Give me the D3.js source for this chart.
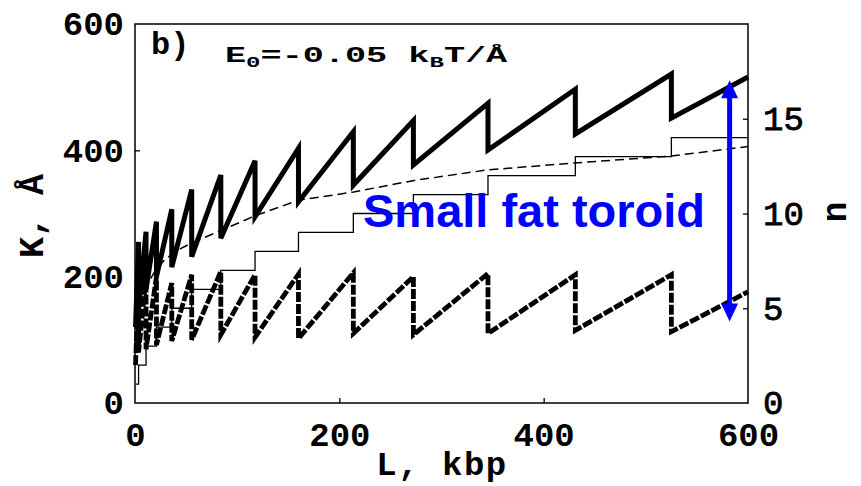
<!DOCTYPE html>
<html>
<head>
<meta charset="utf-8">
<script src="https://cdn.jsdelivr.net/npm/d3@7/dist/d3.min.js"></script>
<style>
  html, body { margin: 0; padding: 0; background: #fff; }
  svg { display: block; }
</style>
</head>
<body>
<svg id="chart" width="861" height="486"></svg>
<script>
// Segment boundaries along L (kbp): each new turn n starts at the next boundary
const breakL = [0.5, 3.5, 10.8, 21, 36, 55.5, 84, 117.5, 160, 213.7, 272.5, 345.5, 431, 525, 600];
// Number of turns n on each segment
const turns = [1, 2, 3, 4, 5, 6, 7, 8, 9, 10, 11, 12, 13, 14];
// Outer radius K (Å) at start and end of each segment
const outerStart = [120, 150, 180, 200, 215, 231.6, 260.7, 295, 318.7, 345, 377, 400.5, 426, 451];
const outerEnd   = [255, 271, 287, 306.6, 338, 361, 383.5, 403, 429.5, 447, 474.4, 496.6, 520.8, 516];
// Inner radius K (Å) at start and end of each segment
const innerStart = [60, 80, 85, 92, 98, 100, 108, 104, 102, 110, 108, 110, 115, 113];
const innerEnd   = [195, 200, 200, 190, 203, 208, 203, 204, 206, 200, 205, 203, 203, 176];
// Smooth reference curve K(L)
const smoothL = [0.5, 2, 5, 10, 20, 30, 42, 55, 84, 117, 160, 214, 272, 345, 430, 525, 600];
const smoothK = [90, 125, 155, 182, 210, 228, 242, 253, 273, 296, 321, 334, 352, 369, 380, 391, 406];
// Axis ticks
const xTicks = [0, 200, 400, 600];
const kTicks = [0, 200, 400, 600];
const nTicks = [0, 5, 10, 15];
// Annotation arrow (L position, K span)
const arrowL = 582, arrowTop = 511, arrowBottom = 129;

const svg = d3.select("#chart");
const W = 861, H = 486;
svg.append("rect").attr("width", W).attr("height", H).attr("fill", "#fff");

const x = d3.scaleLinear().domain([0, 600]).range([135, 748]);
const yK = d3.scaleLinear().domain([0, 600]).range([403, 24]);
const yN = d3.scaleLinear().domain([0, 20]).range([403, 24]);

// Build sawtooth point lists from the segment arrays
function sawtooth(starts, ends) {
  const pts = [];
  for (let i = 0; i < starts.length; i++) {
    pts.push([breakL[i], starts[i]]);
    pts.push([breakL[i + 1], ends[i]]);
  }
  return pts;
}
const outerPts = sawtooth(outerStart, outerEnd);
const innerPts = sawtooth(innerStart, innerEnd);
const stairPts = turns.map((n, i) => [breakL[i], n]);
stairPts.push([breakL[breakL.length - 1], turns[turns.length - 1]]);
const smoothPts = smoothL.map((l, i) => [l, smoothK[i]]);

const lineK = d3.line().x(d => x(d[0])).y(d => yK(d[1]));
const lineN = d3.line().x(d => x(d[0])).y(d => yN(d[1])).curve(d3.curveStepAfter);

const plot = svg.append("g");
plot.append("path").attr("d", lineN(stairPts))
  .attr("fill", "none").attr("stroke", "#000").attr("stroke-width", 1.3);
plot.append("path").attr("d", lineK(smoothPts))
  .attr("fill", "none").attr("stroke", "#000").attr("stroke-width", 1.5)
  .attr("stroke-dasharray", "9,5");
plot.append("path").attr("d", lineK(innerPts))
  .attr("fill", "none").attr("stroke", "#000").attr("stroke-width", 4.8)
  .attr("stroke-dasharray", "10,2").attr("stroke-linejoin", "miter");
plot.append("path").attr("d", lineK(outerPts))
  .attr("fill", "none").attr("stroke", "#000").attr("stroke-width", 5)
  .attr("stroke-linejoin", "miter");

// Frame
svg.append("rect").attr("x", 135).attr("y", 24).attr("width", 613).attr("height", 379)
  .attr("fill", "none").attr("stroke", "#000").attr("stroke-width", 1.5);

const mono = "'Liberation Mono', 'Courier New', monospace";

// Left axis (K)
const gL = svg.append("g").attr("transform", "translate(135,0)")
  .call(d3.axisLeft(yK).tickValues(kTicks).tickSize(-5).tickPadding(11).tickFormat(d3.format("d")));
// Bottom axis (L)
const gB = svg.append("g").attr("transform", "translate(0,403)")
  .call(d3.axisBottom(x).tickValues(xTicks).tickSize(-5).tickPadding(19).tickFormat(d3.format("d")));
// Right axis (n)
const gR = svg.append("g").attr("transform", "translate(748,0)")
  .call(d3.axisRight(yN).tickValues(nTicks).tickSize(-5).tickPadding(15).tickFormat(d3.format("d")));

[gL, gB, gR].forEach(g => {
  g.select(".domain").remove();
  g.selectAll(".tick line").attr("stroke", "#000").attr("stroke-width", 1.3);
  g.selectAll("text").attr("font-family", mono).attr("font-size", 34)
    .attr("font-weight", "bold").attr("fill", "#000");
});
gR.selectAll("text").attr("font-weight", "normal").attr("stroke", "#000").attr("stroke-width", 0.8);
// corner ticks coincide with the frame
[gL, gB, gR].forEach(g => g.selectAll(".tick line").filter(d => d === 0 || d === 600).remove());

// Axis titles
svg.append("text").attr("x", 442).attr("y", 475).attr("text-anchor", "middle")
  .attr("font-family", mono).attr("font-size", 34).attr("font-weight", "bold")
  .attr("letter-spacing", 1.5).text("L, kbp");
svg.append("text").attr("transform", "translate(43,216) rotate(-90)").attr("text-anchor", "middle")
  .attr("font-family", mono).attr("font-size", 35).attr("font-weight", "bold")
  .text("K, Å");
svg.append("text").attr("transform", "translate(846,212) rotate(-90)").attr("text-anchor", "middle")
  .attr("font-family", mono).attr("font-size", 35).attr("font-weight", "bold")
  .text("n");

// Panel label and parameter
svg.append("text").attr("x", 151).attr("y", 54)
  .attr("font-family", mono).attr("font-size", 32).attr("font-weight", "bold")
  .text("b)");
const t = svg.append("text").attr("transform", "translate(225,62) scale(1.6,1)")
  .attr("font-family", mono).attr("font-size", 22).attr("font-weight", "bold");
t.append("tspan").text("E");
t.append("tspan").attr("font-size", 15).attr("dy", 5).text("0");
t.append("tspan").attr("dy", -5).text("=-0.05 k");
t.append("tspan").attr("font-size", 15).attr("dy", 5).text("B");
t.append("tspan").attr("dy", -5).text("T/Å");

// Annotation
svg.append("text").attr("x", 363).attr("y", 227)
  .attr("font-family", "'Liberation Sans', Arial, sans-serif").attr("font-size", 47)
  .attr("font-weight", "bold").attr("fill", "#0000ff")
  .text("Small fat toroid");

const ax = x(arrowL), aTop = yK(arrowTop), aBot = yK(arrowBottom);
const headL = 18, headW = 8.5;
svg.append("line").attr("x1", ax).attr("x2", ax).attr("y1", aTop + headL - 2).attr("y2", aBot - headL + 2)
  .attr("stroke", "#0000ff").attr("stroke-width", 5);
svg.append("path")
  .attr("d", `M${ax},${aTop} L${ax + headW},${aTop + headL} L${ax - headW},${aTop + headL} Z`)
  .attr("fill", "#0000ff");
svg.append("path")
  .attr("d", `M${ax},${aBot} L${ax + headW},${aBot - headL} L${ax - headW},${aBot - headL} Z`)
  .attr("fill", "#0000ff");
</script>
</body>
</html>
